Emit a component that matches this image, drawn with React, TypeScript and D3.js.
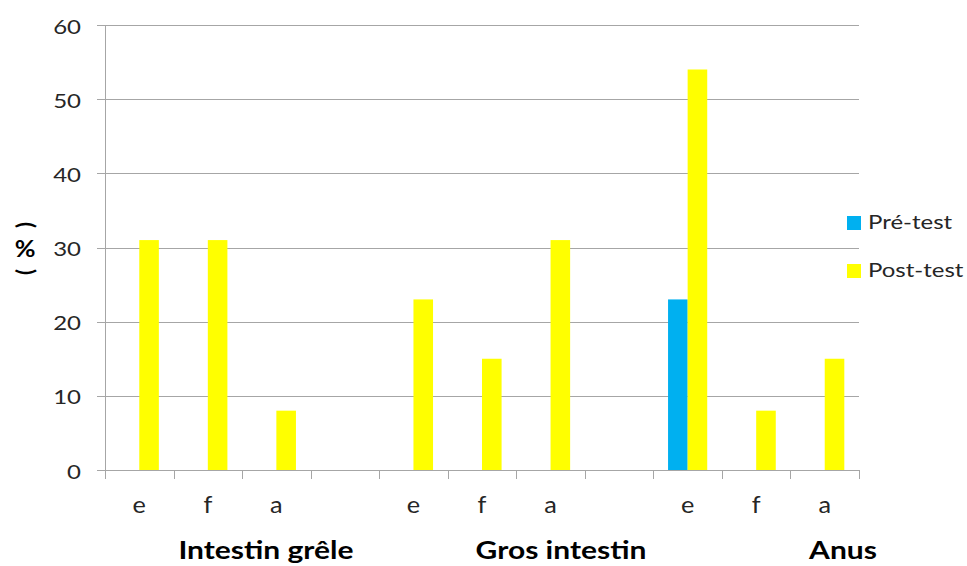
import React from "react";
import * as d3 from "d3";

const slots = ["IG-e", "IG-f", "IG-a", "gap1", "GI-e", "GI-f", "GI-a", "gap2", "AN-e", "AN-f", "AN-a"];
const slotLabels = ["e", "f", "a", "", "e", "f", "a", "", "e", "f", "a"];
const preTest = [0, 0, 0, 0, 0, 0, 0, 0, 23, 0, 0];
const postTest = [31, 31, 8, 0, 23, 15, 31, 0, 54, 8, 15];
const seriesNames = ["Pré-test", "Post-test"];
const seriesColors = ["#00B0F0", "#FFFF00"];
const yTicks = [0, 10, 20, 30, 40, 50, 60];
const groupLabels = ["Intestin grêle", "Gros intestin", "Anus"];
const groupLabelX = [266, 561, 843];

const W = 967;
const H = 566;
const FONT = "Lato, Calibri, 'Open Sans', sans-serif";

function T(props: {
  x: number;
  y: number;
  sx?: number;
  size: number;
  anchor?: string;
  bold?: boolean;
  fill?: string;
  children: React.ReactNode;
}) {
  const { x, y, sx = 1, size, anchor = "start", bold = false, fill = "#262626", children } = props;
  return (
    <text
      transform={`translate(${x},${y}) scale(${sx},1)`}
      textAnchor={anchor as any}
      fontFamily={FONT}
      fontSize={size}
      fontWeight={bold ? "bold" : "normal"}
      fill={fill}
    >
      {children}
    </text>
  );
}

export default function App() {
  const x = d3.scaleBand<string>().domain(slots).range([105, 859]).paddingInner(0).paddingOuter(0);
  const y = d3.scaleLinear().domain([0, 60]).range([470, 25]);
  const slotW = x.bandwidth();
  const barW = slotW / 3.5;
  const grid = "#A6A6A6";

  const boundaries = d3.range(slots.length + 1).map((i) => 105 + i * slotW);

  return (
    <svg width={W} height={H} style={{ position: "absolute", left: 0, top: 0, background: "#fff" }}>
      {yTicks.map((t) => (
        <line key={"g" + t} x1={97} x2={859} y1={Math.round(y(t)) + 0.5} y2={Math.round(y(t)) + 0.5} stroke={grid} strokeWidth={1} />
      ))}
      <line x1={105.5} x2={105.5} y1={y(60)} y2={479} stroke={grid} strokeWidth={1} />
      {boundaries.map((b, i) => (
        <line key={"xt" + i} x1={Math.round(b) + 0.5} x2={Math.round(b) + 0.5} y1={470} y2={479} stroke={grid} strokeWidth={1} />
      ))}
      {slots.map((s, i) => {
        const c = (x(s) as number) + slotW / 2;
        return (
          <g key={"b" + s}>
            {preTest[i] > 0 && (
              <rect x={c - barW} y={y(preTest[i])} width={barW} height={y(0) - y(preTest[i])} fill={seriesColors[0]} />
            )}
            {postTest[i] > 0 && (
              <rect x={c} y={y(postTest[i])} width={barW} height={y(0) - y(postTest[i])} fill={seriesColors[1]} />
            )}
          </g>
        );
      })}
      {yTicks.map((t) => (
        <T key={"yl" + t} x={81} y={y(t) + 8.5} sx={1.2} size={20} anchor="end">
          {t}
        </T>
      ))}
      {slots.map((s, i) => (
        <T key={"xl" + s} x={(x(s) as number) + slotW / 2} y={513} sx={1.1} size={23} anchor="middle">
          {slotLabels[i]}
        </T>
      ))}
      {groupLabels.map((g, i) => (
        <T key={"gl" + g} x={groupLabelX[i]} y={559} sx={1.25} size={24} anchor="middle" bold fill="#000">
          {g}
        </T>
      ))}
      <g fontFamily={FONT} fontSize={22} fontWeight="bold" fill="#000">
        <text transform="translate(25,272) rotate(-90)" dy="0.36em" textAnchor="middle">(</text>
        <text transform="translate(25,249) scale(1.15,1)" dy="0.36em" textAnchor="middle">%</text>
        <text transform="translate(25,225) rotate(-90)" dy="0.36em" textAnchor="middle">)</text>
      </g>
      {seriesNames.map((n, i) => (
        <g key={"lg" + n}>
          <rect x={847} y={216 + i * 48} width={14} height={14} fill={seriesColors[i]} />
          <T x={868} y={228.5 + i * 48} sx={1.2} size={20}>
            {n}
          </T>
        </g>
      ))}
    </svg>
  );
}
